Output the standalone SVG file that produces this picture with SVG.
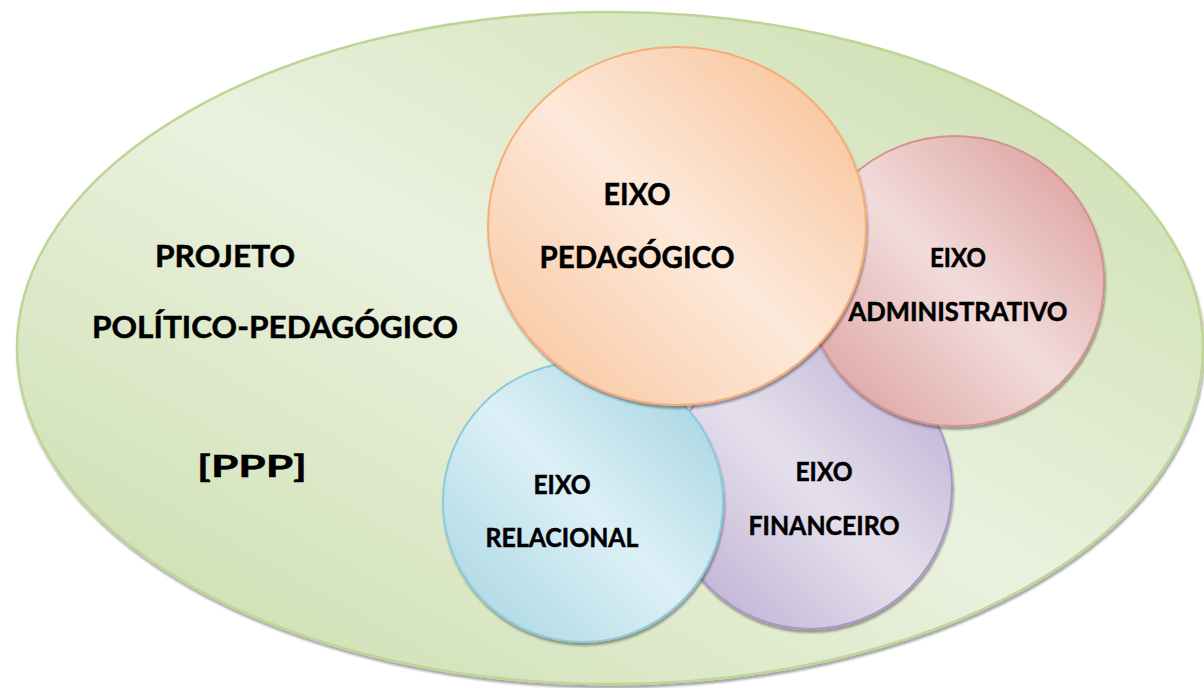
<svg xmlns="http://www.w3.org/2000/svg" width="1204" height="688" viewBox="0 0 1204 688">
  <defs>
    <!-- diagonal "reflected" fills: darker at top-right and bottom-left, light through the middle -->
    <linearGradient id="gGreen" x1="1" y1="0" x2="0" y2="1">
      <stop offset="0" stop-color="#c8dca8"/>
      <stop offset="0.5" stop-color="#ebf1df"/>
      <stop offset="1" stop-color="#c8dca8"/>
    </linearGradient>
    <linearGradient id="gOrange" x1="1" y1="0" x2="0" y2="1">
      <stop offset="0" stop-color="#f8bd8f"/>
      <stop offset="0.5" stop-color="#fde9da"/>
      <stop offset="1" stop-color="#f8c298"/>
    </linearGradient>
    <linearGradient id="gPink" x1="1" y1="0" x2="0" y2="1">
      <stop offset="0" stop-color="#d99794"/>
      <stop offset="0.5" stop-color="#f2dcdb"/>
      <stop offset="1" stop-color="#d99a98"/>
    </linearGradient>
    <linearGradient id="gPurple" x1="1" y1="0" x2="0" y2="1">
      <stop offset="0" stop-color="#b9a9d1"/>
      <stop offset="0.5" stop-color="#e5e0ec"/>
      <stop offset="1" stop-color="#b9a9d1"/>
    </linearGradient>
    <linearGradient id="gBlue" x1="1" y1="0" x2="0" y2="1">
      <stop offset="0" stop-color="#9dd0de"/>
      <stop offset="0.5" stop-color="#dcf0f6"/>
      <stop offset="1" stop-color="#a3d3e0"/>
    </linearGradient>
    <filter id="shadow" x="-10%" y="-10%" width="120%" height="120%">
      <feDropShadow dx="1" dy="3" stdDeviation="1.2" flood-color="#000" flood-opacity="0.35"/>
    </filter>
    <style>
      .lbl { font-family: Lato, "Open Sans", "Liberation Sans", sans-serif; font-weight: bold; fill: #000; stroke: #000; stroke-width: 0.5; text-anchor: middle; }
      .big { font-size: 31px; }
      .mid { font-size: 30px; }
      .sm { font-size: 26px; }
    </style>
  </defs>

  <!-- outer project ellipse -->
  <g id="ppp">
    <ellipse cx="610" cy="348" rx="593" ry="336" fill="url(#gGreen)" stroke="#bfd598" stroke-width="2.5" filter="url(#shadow)"/>
    <text class="lbl big" x="225" y="267" textLength="140" lengthAdjust="spacingAndGlyphs">PROJETO</text>
    <text class="lbl big" x="275" y="338" textLength="366" lengthAdjust="spacingAndGlyphs">POLÍTICO-PEDAGÓGICO</text>
    <text class="lbl big" x="252" y="477" textLength="110" lengthAdjust="spacingAndGlyphs">[PPP]</text>
  </g>

  <!-- axes, back to front -->
  <g id="eixo-financeiro">
    <circle cx="810" cy="487" r="142" fill="url(#gPurple)" stroke="#a897c6" stroke-width="2" filter="url(#shadow)"/>
    <text class="lbl sm" x="824" y="481" textLength="57" lengthAdjust="spacingAndGlyphs">EIXO</text>
    <text class="lbl sm" x="824" y="535" textLength="151" lengthAdjust="spacingAndGlyphs">FINANCEIRO</text>
  </g>

  <g id="eixo-relacional">
    <circle cx="583" cy="502" r="140" fill="url(#gBlue)" stroke="#8ccbdc" stroke-width="2" filter="url(#shadow)"/>
    <text class="lbl sm" x="562" y="494" textLength="57" lengthAdjust="spacingAndGlyphs">EIXO</text>
    <text class="lbl sm" x="562" y="547" textLength="153" lengthAdjust="spacingAndGlyphs">RELACIONAL</text>
  </g>

  <g id="eixo-administrativo">
    <ellipse cx="955" cy="281" rx="149" ry="145" fill="url(#gPink)" stroke="#d39290" stroke-width="2" filter="url(#shadow)"/>
    <text class="lbl sm" x="958" y="267" textLength="56" lengthAdjust="spacingAndGlyphs">EIXO</text>
    <text class="lbl sm" x="958" y="321" textLength="219" lengthAdjust="spacingAndGlyphs">ADMINISTRATIVO</text>
  </g>

  <g id="eixo-pedagogico">
    <ellipse cx="677" cy="226" rx="189" ry="179" fill="url(#gOrange)" stroke="#f6ad78" stroke-width="2" filter="url(#shadow)"/>
    <text class="lbl mid" x="637" y="205" textLength="67" lengthAdjust="spacingAndGlyphs">EIXO</text>
    <text class="lbl mid" x="637" y="268" textLength="195" lengthAdjust="spacingAndGlyphs">PEDAGÓGICO</text>
  </g>

  <g id="connectors"/>
</svg>
